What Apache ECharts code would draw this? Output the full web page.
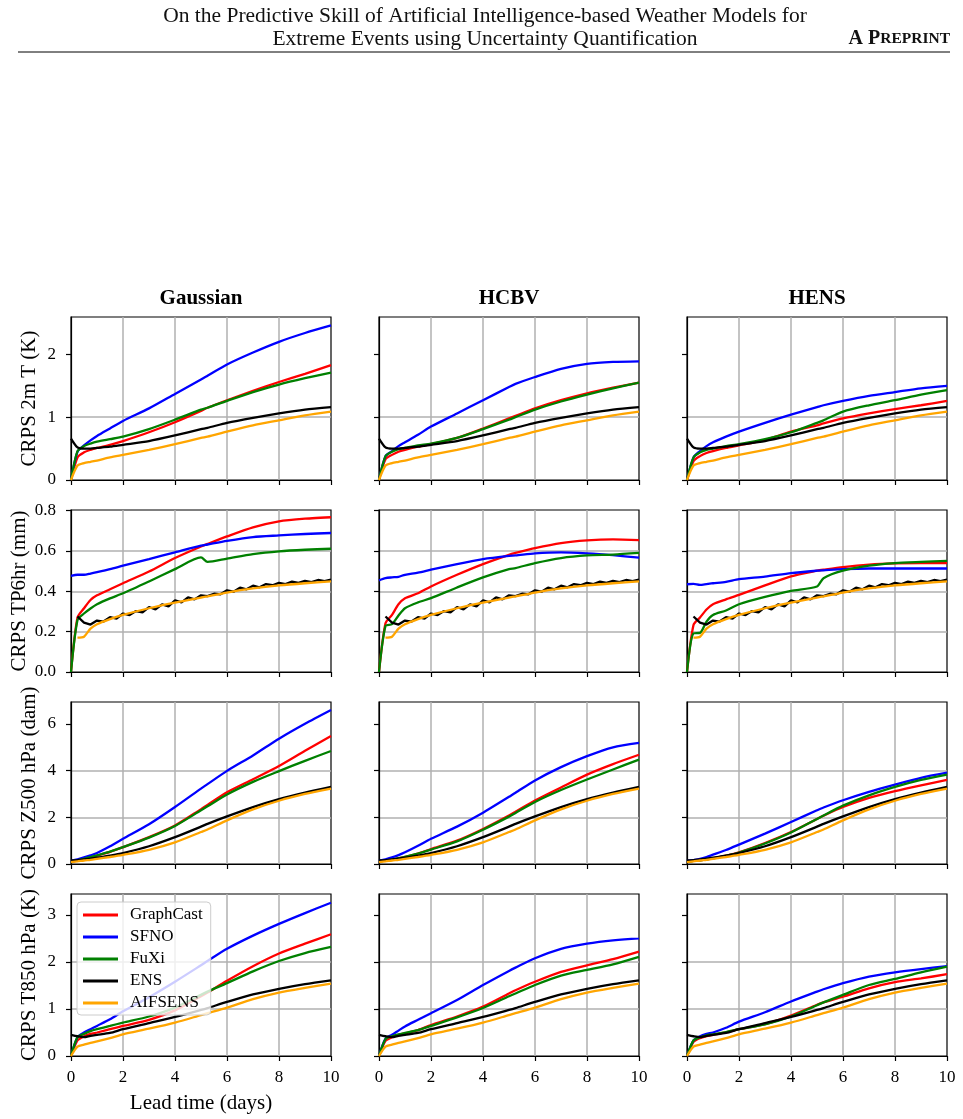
<!DOCTYPE html>
<html>
<head>
<meta charset="utf-8">
<script src="https://cdn.jsdelivr.net/npm/echarts@6/dist/echarts.min.js"></script>
<style>
  html, body { margin: 0; padding: 0; background: #fff; }
  #chart { width: 963px; height: 1119px; }
</style>
</head>
<body>
<div id="chart"></div>
<script>
// lead times (days)
const days = [0, 0.25, 0.5, 0.75, 1, 1.5, 2, 3, 4, 5, 5.25, 6, 7, 8, 9, 10];
const daysFine = [0.25, 0.5, 0.75, 1, 1.25, 1.5, 1.75, 2, 2.25, 2.5, 2.75, 3, 3.25, 3.5, 3.75, 4,
  4.25, 4.5, 4.75, 5, 5.25, 5.5, 5.75, 6, 6.25, 6.5, 6.75, 7, 7.25, 7.5, 7.75, 8,
  8.25, 8.5, 8.75, 9, 9.25, 9.5, 9.75, 10];

const models = ["GraphCast", "SFNO", "FuXi", "ENS", "AIFSENS"];
const methods = ["Gaussian", "HCBV", "HENS"];

// CRPS 2m T (K)
const t2mEns = [0.66, 0.52, 0.5, 0.5, 0.51, 0.53, 0.56, 0.62, 0.71, 0.81, 0.83, 0.91, 0.99, 1.06, 1.12, 1.16];
const t2mAifsens = [0, 0.23, 0.27, 0.29, 0.31, 0.36, 0.4, 0.48, 0.57, 0.67, 0.69, 0.77, 0.87, 0.95, 1.03, 1.09];
const t2mGaussGraphcast = [0, 0.36, 0.44, 0.48, 0.51, 0.56, 0.62, 0.76, 0.92, 1.1, 1.15, 1.27, 1.42, 1.56, 1.69, 1.83];
const t2mGaussSfno = [0, 0.45, 0.55, 0.63, 0.7, 0.82, 0.94, 1.14, 1.37, 1.6, 1.66, 1.84, 2.03, 2.2, 2.34, 2.46];
const t2mGaussFuxi = [0, 0.46, 0.54, 0.58, 0.61, 0.65, 0.69, 0.81, 0.96, 1.12, 1.15, 1.26, 1.4, 1.52, 1.62, 1.71];
const t2mHcbvGraphcast = [0, 0.33, 0.4, 0.45, 0.48, 0.53, 0.57, 0.67, 0.82, 0.98, 1.02, 1.14, 1.27, 1.38, 1.47, 1.55];
const t2mHcbvSfno = [0, 0.38, 0.46, 0.54, 0.6, 0.72, 0.85, 1.06, 1.27, 1.48, 1.53, 1.64, 1.77, 1.85, 1.88, 1.89];
const t2mHcbvFuxi = [0, 0.38, 0.45, 0.49, 0.51, 0.55, 0.58, 0.67, 0.81, 0.96, 1.0, 1.12, 1.25, 1.36, 1.46, 1.55];
const t2mHensGraphcast = [0, 0.3, 0.38, 0.43, 0.46, 0.51, 0.55, 0.64, 0.77, 0.87, 0.9, 0.98, 1.06, 1.13, 1.19, 1.26];
const t2mHensSfno = [0, 0.36, 0.46, 0.54, 0.6, 0.69, 0.77, 0.91, 1.04, 1.16, 1.19, 1.26, 1.34, 1.4, 1.46, 1.5];
const t2mHensFuxi = [0, 0.36, 0.44, 0.48, 0.5, 0.54, 0.57, 0.65, 0.76, 0.91, 0.95, 1.09, 1.19, 1.27, 1.36, 1.43];

// CRPS TP6hr (mm) -- ENS on the 6-hourly grid
const tpEns = [0.275, 0.245, 0.235, 0.255, 0.25, 0.272, 0.265, 0.29, 0.282, 0.302, 0.295, 0.322, 0.31, 0.335, 0.325, 0.355,
  0.345, 0.37, 0.36, 0.38, 0.376, 0.388, 0.385, 0.405, 0.398, 0.418, 0.41, 0.428, 0.42, 0.436, 0.43, 0.442,
  0.436, 0.448, 0.442, 0.452, 0.446, 0.456, 0.45, 0.458];
const tpAifsens = [null, 0.17, 0.175, 0.215, 0.237, 0.262, 0.283, 0.316, 0.344, 0.369, 0.375, 0.394, 0.414, 0.429, 0.44, 0.449];
const tpGaussGraphcast = [0, 0.27, 0.316, 0.357, 0.38, 0.41, 0.44, 0.498, 0.565, 0.622, 0.635, 0.672, 0.717, 0.747, 0.76, 0.767];
const tpGaussSfno = [0.477, 0.482, 0.482, 0.488, 0.495, 0.51, 0.527, 0.56, 0.593, 0.626, 0.632, 0.65, 0.669, 0.677, 0.684, 0.689];
const tpGaussFuxi = [0, 0.258, 0.29, 0.315, 0.336, 0.365, 0.39, 0.449, 0.51, 0.568, 0.546, 0.562, 0.584, 0.598, 0.606, 0.611];
const tpHcbvGraphcast = [0, 0.242, 0.283, 0.336, 0.366, 0.39, 0.424, 0.482, 0.535, 0.581, 0.59, 0.614, 0.639, 0.652, 0.657, 0.654];
const tpHcbvSfno = [0.454, 0.465, 0.469, 0.472, 0.482, 0.492, 0.507, 0.535, 0.56, 0.576, 0.578, 0.588, 0.593, 0.588, 0.579, 0.567];
const tpHcbvFuxi = [0, 0.228, 0.237, 0.28, 0.316, 0.345, 0.366, 0.419, 0.469, 0.51, 0.515, 0.54, 0.565, 0.578, 0.582, 0.59];
const tpHensGraphcast = [0, 0.233, 0.27, 0.31, 0.336, 0.36, 0.382, 0.429, 0.474, 0.502, 0.507, 0.52, 0.532, 0.538, 0.54, 0.54];
const tpHensSfno = [0.435, 0.437, 0.432, 0.436, 0.44, 0.447, 0.46, 0.473, 0.49, 0.502, 0.504, 0.51, 0.513, 0.513, 0.513, 0.513];
const tpHensFuxi = [0, 0.192, 0.194, 0.25, 0.283, 0.305, 0.336, 0.372, 0.402, 0.424, 0.465, 0.502, 0.527, 0.54, 0.546, 0.551];

// CRPS Z500 hPa (dam)
const z500Ens = [0.15, 0.17, 0.2, 0.23, 0.27, 0.36, 0.47, 0.76, 1.15, 1.6, 1.72, 2.04, 2.44, 2.78, 3.06, 3.3];
const z500Aifsens = [0.08, 0.11, 0.15, 0.18, 0.22, 0.3, 0.39, 0.61, 0.93, 1.37, 1.48, 1.87, 2.34, 2.71, 3.0, 3.23];
const z500GaussGraphcast = [0.1, 0.15, 0.2, 0.27, 0.36, 0.52, 0.72, 1.15, 1.65, 2.35, 2.53, 3.07, 3.63, 4.2, 4.85, 5.48];
const z500GaussSfno = [0.13, 0.2, 0.28, 0.37, 0.47, 0.76, 1.08, 1.7, 2.44, 3.23, 3.42, 3.99, 4.65, 5.37, 6.01, 6.6];
const z500GaussFuxi = [0.1, 0.16, 0.22, 0.29, 0.37, 0.53, 0.72, 1.13, 1.63, 2.3, 2.47, 2.98, 3.52, 3.98, 4.42, 4.84];
const z500HcbvGraphcast = [0.1, 0.14, 0.19, 0.25, 0.31, 0.45, 0.64, 1.0, 1.5, 2.08, 2.24, 2.72, 3.28, 3.83, 4.28, 4.68];
const z500HcbvSfno = [0.13, 0.2, 0.28, 0.38, 0.5, 0.78, 1.08, 1.6, 2.2, 2.88, 3.05, 3.58, 4.15, 4.62, 5.0, 5.19];
const z500HcbvFuxi = [0.1, 0.14, 0.19, 0.25, 0.31, 0.45, 0.62, 0.97, 1.47, 2.03, 2.19, 2.66, 3.17, 3.62, 4.05, 4.47];
const z500HensGraphcast = [0.1, 0.13, 0.16, 0.2, 0.24, 0.36, 0.5, 0.9, 1.37, 1.93, 2.07, 2.44, 2.83, 3.12, 3.37, 3.6];
const z500HensSfno = [0.13, 0.17, 0.22, 0.3, 0.4, 0.6, 0.83, 1.3, 1.8, 2.3, 2.42, 2.73, 3.09, 3.4, 3.69, 3.91];
const z500HensFuxi = [0.1, 0.13, 0.16, 0.2, 0.24, 0.35, 0.49, 0.88, 1.35, 1.93, 2.08, 2.5, 2.94, 3.3, 3.6, 3.83];

// CRPS T850 hPa (K)
const t850Ens = [0.45, 0.42, 0.4, 0.43, 0.45, 0.49, 0.57, 0.7, 0.83, 0.98, 1.02, 1.15, 1.31, 1.43, 1.53, 1.61];
const t850Aifsens = [0, 0.2, 0.24, 0.28, 0.31, 0.38, 0.46, 0.58, 0.71, 0.87, 0.91, 1.03, 1.21, 1.35, 1.45, 1.54];
const t850GaussGraphcast = [0, 0.33, 0.42, 0.47, 0.5, 0.57, 0.64, 0.77, 0.97, 1.27, 1.35, 1.6, 1.91, 2.18, 2.39, 2.59];
const t850GaussSfno = [0, 0.4, 0.5, 0.57, 0.64, 0.78, 0.95, 1.25, 1.58, 1.93, 2.02, 2.28, 2.56, 2.81, 3.04, 3.26];
const t850GaussFuxi = [0, 0.4, 0.47, 0.53, 0.57, 0.64, 0.71, 0.84, 1.03, 1.3, 1.37, 1.55, 1.8, 2.02, 2.19, 2.32];
const t850HcbvGraphcast = [0, 0.32, 0.4, 0.45, 0.48, 0.55, 0.66, 0.84, 1.05, 1.33, 1.4, 1.58, 1.79, 1.93, 2.06, 2.22];
const t850HcbvSfno = [0, 0.37, 0.45, 0.54, 0.63, 0.77, 0.91, 1.19, 1.51, 1.81, 1.88, 2.08, 2.28, 2.39, 2.46, 2.5];
const t850HcbvFuxi = [0, 0.36, 0.42, 0.46, 0.49, 0.55, 0.64, 0.82, 1.02, 1.27, 1.33, 1.51, 1.71, 1.83, 1.95, 2.11];
const t850HensGraphcast = [0, 0.3, 0.38, 0.42, 0.45, 0.5, 0.57, 0.68, 0.86, 1.09, 1.14, 1.26, 1.44, 1.57, 1.65, 1.74];
const t850HensSfno = [0, 0.33, 0.42, 0.47, 0.5, 0.6, 0.73, 0.93, 1.16, 1.37, 1.42, 1.55, 1.69, 1.78, 1.85, 1.91];
const t850HensFuxi = [0, 0.33, 0.4, 0.44, 0.46, 0.51, 0.57, 0.67, 0.84, 1.08, 1.14, 1.3, 1.51, 1.64, 1.78, 1.9];

const yTicksT2m = [0, 1, 2];
const yTicksTp = [0, 0.2, 0.4, 0.6, 0.8];
const yTicksZ500 = [0, 2, 4, 6];
const yTicksT850 = [0, 1, 2, 3];

// rows of the figure
const rows = [
  { label: "CRPS 2m T (K)", max: 2.595, interval: 1, ticks: yTicksT2m, gap: 31, top: 317, height: 163,
    ens: t2mEns, ensX: days, aifs: t2mAifsens,
    panels: [[t2mGaussGraphcast, t2mGaussSfno, t2mGaussFuxi], [t2mHcbvGraphcast, t2mHcbvSfno, t2mHcbvFuxi], [t2mHensGraphcast, t2mHensSfno, t2mHensFuxi]] },
  { label: "CRPS TP6hr (mm)", max: 0.803, interval: 0.2, ticks: yTicksTp, gap: 41, top: 510, height: 162, digits: 1,
    ens: tpEns, ensX: daysFine, aifs: tpAifsens,
    panels: [[tpGaussGraphcast, tpGaussSfno, tpGaussFuxi], [tpHcbvGraphcast, tpHcbvSfno, tpHcbvFuxi], [tpHensGraphcast, tpHensSfno, tpHensFuxi]] },
  { label: "CRPS Z500 hPa (dam)", max: 6.94, interval: 2, ticks: yTicksZ500, gap: 31, top: 702, height: 162,
    ens: z500Ens, ensX: days, aifs: z500Aifsens,
    panels: [[z500GaussGraphcast, z500GaussSfno, z500GaussFuxi], [z500HcbvGraphcast, z500HcbvSfno, z500HcbvFuxi], [z500HensGraphcast, z500HensSfno, z500HensFuxi]] },
  { label: "CRPS T850 hPa (K)", max: 3.446, interval: 1, ticks: yTicksT850, gap: 31, top: 894, height: 162,
    ens: t850Ens, ensX: days, aifs: t850Aifsens,
    panels: [[t850GaussGraphcast, t850GaussSfno, t850GaussFuxi], [t850HcbvGraphcast, t850HcbvSfno, t850HcbvFuxi], [t850HensGraphcast, t850HensSfno, t850HensFuxi]] }
];

const colLeft = [71, 379, 687];
const colWidth = 260;
const colors = ["#ff0000", "#0000ff", "#008000", "#000000", "#ffa500"];
const font = "Liberation Serif";

function pairs(xs, ys) {
  const out = [];
  xs.forEach((x, i) => { if (ys[i] !== null) out.push([x, ys[i]]); });
  return out;
}

const chart = echarts.init(document.getElementById("chart"));

const grid = [], xAxis = [], yAxis = [], series = [];
rows.forEach((row, r) => {
  methods.forEach((m, c) => {
    const idx = r * 3 + c;
    grid.push({
      left: colLeft[c], top: row.top, width: colWidth, height: row.height,
      show: true, borderColor: "#000", borderWidth: 1.2, backgroundColor: "transparent"
    });
    xAxis.push({
      gridIndex: idx, type: "value", min: 0, max: 10, interval: 2,
      axisLine: { show: true, onZero: false, lineStyle: { color: "#000", width: 1.2 } },
      axisTick: { show: true, length: 5, lineStyle: { color: "#000", width: 1.2 } },
      axisLabel: { show: r === 3, margin: 13, color: "#000", fontFamily: font, fontSize: 17 },
      splitLine: { show: true, showMinLine: false, showMaxLine: false, lineStyle: { color: "#b0b0b0", width: 1.5 } },
      name: (r === 3 && c === 0) ? "Lead time (days)" : "",
      nameLocation: "middle", nameGap: 37,
      nameTextStyle: { color: "#000", fontFamily: font, fontSize: 21 }
    });
    yAxis.push({
      gridIndex: idx, type: "value", min: 0, max: row.max, interval: row.interval,
      axisLine: { show: true, onZero: false, lineStyle: { color: "#000", width: 1.2 } },
      axisTick: { show: true, length: 5, customValues: row.ticks, lineStyle: { color: "#000", width: 1.2 } },
      axisLabel: {
        show: c === 0, margin: 15, customValues: row.ticks, color: "#000", fontFamily: font, fontSize: 17,
        formatter: v => row.digits ? v.toFixed(row.digits) : String(Math.round(v))
      },
      splitLine: { show: true, showMinLine: false, showMaxLine: false, lineStyle: { color: "#b0b0b0", width: 1.5 } },
      name: c === 0 ? row.label : "",
      nameLocation: "middle", nameGap: row.gap,
      nameTextStyle: { color: "#000", fontFamily: font, fontSize: 21 }
    });
    const lines = [
      pairs(days, row.panels[c][0]),
      pairs(days, row.panels[c][1]),
      pairs(days, row.panels[c][2]),
      pairs(row.ensX, row.ens),
      pairs(days, row.aifs)
    ];
    lines.forEach((data, k) => {
      series.push({
        type: "line", name: models[k], xAxisIndex: idx, yAxisIndex: idx, data,
        symbol: "none", smooth: (r === 1 && k === 3) ? false : 0.25,
        lineStyle: { color: colors[k], width: 2.3 },
        itemStyle: { color: colors[k] },
        emphasis: { disabled: true }
      });
    });
  });
});

const title = [
  { text: "On the Predictive Skill of Artificial Intelligence-based Weather Models for", left: 485, top: 5, textAlign: "center", padding: 0,
    textStyle: { fontFamily: font, fontSize: 21.5, fontWeight: "normal", color: "#111" } },
  { text: "Extreme Events using Uncertainty Quantification", left: 485, top: 28, textAlign: "center", padding: 0,
    textStyle: { fontFamily: font, fontSize: 21.5, fontWeight: "normal", color: "#111" } },
  { text: "{a|A P}{b|REPRINT}", left: 950, top: 29, textAlign: "right", padding: 0,
    textStyle: { fontFamily: font, color: "#111",
      rich: { a: { fontFamily: font, fontSize: 20, color: "#111" }, b: { fontFamily: font, fontSize: 15.5, color: "#111" } } } }
];
methods.forEach((m, c) => {
  title.push({ text: m, left: colLeft[c] + colWidth / 2, top: 288, textAlign: "center", padding: 0,
    textStyle: { fontFamily: font, fontSize: 21, fontWeight: "bold", color: "#000" } });
});

chart.setOption({
  animation: false,
  backgroundColor: "#fff",
  title,
  legend: {
    data: models.map(n => ({ name: n, icon: "rect" })),
    left: 77, top: 902, orient: "vertical",
    itemWidth: 35, itemHeight: 3, itemGap: 4, padding: [4, 8, 3, 6],
    backgroundColor: "rgba(255,255,255,0.8)", borderColor: "#cccccc", borderWidth: 1, borderRadius: 4,
    textStyle: { fontFamily: font, fontSize: 17, lineHeight: 18, color: "#000", padding: [0, 0, 0, 7] }
  },
  graphic: [
    { type: "line", shape: { x1: 18, y1: 52, x2: 950, y2: 52 }, style: { stroke: "#000", lineWidth: 1 } }
  ],
  grid, xAxis, yAxis, series
});
</script>
</body>
</html>
